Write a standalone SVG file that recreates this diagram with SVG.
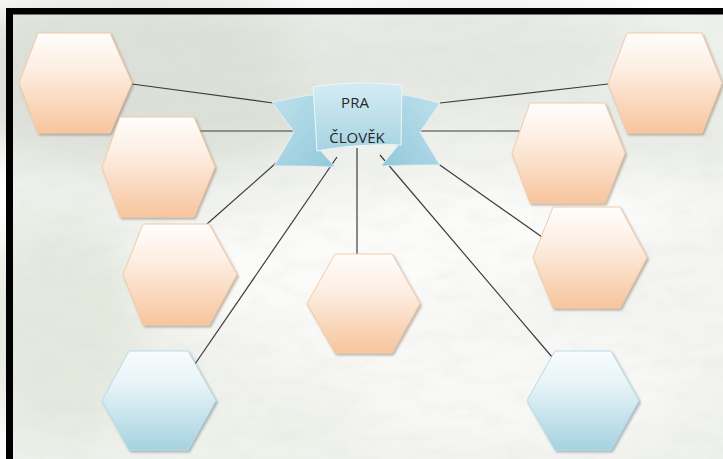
<svg xmlns="http://www.w3.org/2000/svg" width="723" height="459" viewBox="0 0 723 459">
  <defs>
    <linearGradient id="gOr" x1="0" y1="0" x2="0" y2="1">
      <stop offset="0" stop-color="#fffdfb"/>
      <stop offset="0.35" stop-color="#fdefe4"/>
      <stop offset="1" stop-color="#f7c59d"/>
    </linearGradient>
    <linearGradient id="gBl" x1="0" y1="0" x2="0" y2="1">
      <stop offset="0" stop-color="#f8fcfd"/>
      <stop offset="0.35" stop-color="#e6f3f7"/>
      <stop offset="1" stop-color="#a5d2e0"/>
    </linearGradient>
    <linearGradient id="gPanel" x1="0" y1="0" x2="0" y2="1">
      <stop offset="0" stop-color="#d4ecf4"/>
      <stop offset="1" stop-color="#a6d3e2"/>
    </linearGradient>
    <linearGradient id="gWingL" x1="0" y1="0" x2="1" y2="1">
      <stop offset="0" stop-color="#bfe1ec"/>
      <stop offset="1" stop-color="#92c8db"/>
    </linearGradient>
    <linearGradient id="gWingR" x1="1" y1="0" x2="0" y2="1">
      <stop offset="0" stop-color="#bfe1ec"/>
      <stop offset="1" stop-color="#92c8db"/>
    </linearGradient>
    <filter id="blurBg" x="-20%" y="-20%" width="140%" height="140%">
      <feGaussianBlur stdDeviation="22"/>
    </filter>
    <filter id="noise" x="0" y="0" width="100%" height="100%">
      <feTurbulence type="fractalNoise" baseFrequency="0.03 0.07" numOctaves="3" seed="7"/>
      <feColorMatrix type="matrix" values="0 0 0 0 0.6  0 0 0 0 0.64  0 0 0 0 0.58  0 0 0 -1.6 0.95"/>
    </filter>
    <filter id="shadow" x="-10%" y="-10%" width="125%" height="125%">
      <feDropShadow dx="1.5" dy="2" stdDeviation="1.2" flood-color="#7a6048" flood-opacity="0.45"/>
    </filter>
    <filter id="shadowB" x="-10%" y="-10%" width="125%" height="125%">
      <feDropShadow dx="1.5" dy="2" stdDeviation="1.2" flood-color="#4d6f7a" flood-opacity="0.45"/>
    </filter>
  </defs>
  <style>
    .hexO { fill: url(#gOr); stroke: #f2cba9; stroke-width: 1; filter: url(#shadow); }
    .hexB { fill: url(#gBl); stroke: #b7dbe6; stroke-width: 1; filter: url(#shadowB); }
    .conn { stroke: #3c3c3c; stroke-width: 1.2; fill: none; }
    .lbl { font-family: "Open Sans", "Liberation Sans", sans-serif; font-size: 15px; fill: #262626; text-anchor: middle; }
  </style>

  <rect x="0" y="0" width="723" height="459" fill="#ffffff"/>
  <g id="background">
    <rect x="6" y="8" width="717" height="451" fill="#eff1ec"/>
    <g filter="url(#blurBg)">
      <ellipse cx="140" cy="80" rx="230" ry="85" fill="#dce0d8"/>
      <ellipse cx="470" cy="60" rx="200" ry="55" fill="#e5e8e2"/>
      <ellipse cx="650" cy="120" rx="90" ry="80" fill="#e9ece6"/>
      <ellipse cx="400" cy="250" rx="340" ry="60" fill="#fbfbfa" transform="rotate(-8 400 250)"/>
      <ellipse cx="470" cy="380" rx="240" ry="70" fill="#f8f8f6"/>
      <ellipse cx="60" cy="330" rx="90" ry="110" fill="#e4e9df"/>
      <ellipse cx="250" cy="420" rx="120" ry="45" fill="#eff1eb"/>
      <ellipse cx="690" cy="300" rx="60" ry="90" fill="#f4f5f2"/>
    </g>
    <rect x="6" y="8" width="717" height="451" filter="url(#noise)" opacity="0.16"/>
  </g>
  <rect x="6" y="8" width="717" height="6.5" fill="#000000"/>
  <rect x="6" y="8" width="7" height="451" fill="#000000"/>

  <g id="connectors">
    <line class="conn" x1="132" y1="84" x2="273" y2="103"/>
    <line class="conn" x1="198" y1="131" x2="294" y2="131"/>
    <line class="conn" x1="207" y1="224" x2="276" y2="163"/>
    <line class="conn" x1="195" y1="364" x2="337" y2="157"/>
    <line class="conn" x1="357" y1="148" x2="357" y2="254"/>
    <line class="conn" x1="380" y1="155" x2="552" y2="357"/>
    <line class="conn" x1="437" y1="163" x2="542" y2="237"/>
    <line class="conn" x1="420" y1="131" x2="520" y2="131"/>
    <line class="conn" x1="440" y1="103" x2="608" y2="84"/>
  </g>

  <g id="center-ribbon">
    <path d="M318,148 L335,167 L318,167 Z" fill="#78aec2"/>
    <path d="M398,146 L381,166 L398,166 Z" fill="#78aec2"/>
    <path d="M272,102 C288,99 302,96 318,94 L320,150 L335,167 C312,166 292,166 274,166 L294,132 Z" fill="url(#gWingL)" stroke="#e8f4f8" stroke-width="0.8"/>
    <path d="M440,103 C425,99 411,96 398,94 L397,147 L381,166 C402,165 420,165 440,165 L420,132 Z" fill="url(#gWingR)" stroke="#e8f4f8" stroke-width="0.8"/>
    <path d="M313,87 C340,82 372,82 402,85 L401,145 C372,144 343,146 317,151 Z" fill="url(#gPanel)" stroke="#eef7fa" stroke-width="1"/>
    <text class="lbl" x="355" y="108">PRA</text>
    <text class="lbl" x="357" y="143">ČLOVĚK</text>
  </g>

  <g id="hex-l1"><polygon class="hexO" points="19,83 38,33 110,33 132,83 110,133 38,133"/></g>
  <g id="hex-l2"><polygon class="hexO" points="102,167 120,117 194,117 215,167 194,217 120,217"/></g>
  <g id="hex-l3"><polygon class="hexO" points="123,274.5 143,224 209,224 237,274.5 209,325 143,325"/></g>
  <g id="hex-l4"><polygon class="hexB" points="102,400.5 129,351 188,351 216,400.5 188,450 129,450"/></g>
  <g id="hex-mid"><polygon class="hexO" points="307,303.5 335,254 392,254 420,303.5 392,353 335,353"/></g>
  <g id="hex-r1"><polygon class="hexO" points="608,83 627,33 702,33 722,83 702,133 627,133"/></g>
  <g id="hex-r2"><polygon class="hexO" points="512,153 530,103 605,103 625,153 605,203 530,203"/></g>
  <g id="hex-r3"><polygon class="hexO" points="533,257.5 553,207 620,207 647,257.5 620,308 553,308"/></g>
  <g id="hex-r4"><polygon class="hexB" points="527,400.5 555,351 611,351 639,400.5 611,450 555,450"/></g>
</svg>
